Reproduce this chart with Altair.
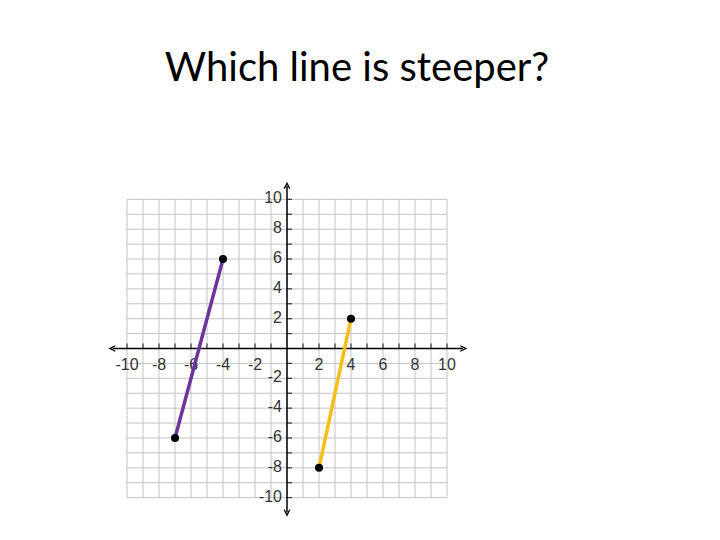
import altair as alt
import pandas as pd

title_text = "Which line is steeper?"
grid_values = list(range(-10, 11))
tick_values = [v for v in range(-10, 11) if v != 0]
label_values = [-10, -8, -6, -4, -2, 2, 4, 6, 8, 10]

purple_x = [-7, -4]
purple_y = [-6, 6]
yellow_x = [2, 4]
yellow_y = [-8, 2]

axis_x_ends = [-10.9, 11.0]
axis_y_ends = [-11.0, 10.9]

X = alt.Scale(domain=[-11.5, 11.5], nice=False, zero=False)
Y = alt.Scale(domain=[-11.5, 11.5], nice=False, zero=False)

grid_df = pd.DataFrame({"v": grid_values, "lo": [-10] * len(grid_values), "hi": [10] * len(grid_values)})
ticks_df = pd.DataFrame({"v": tick_values, "z": [0] * len(tick_values)})
labels_df = pd.DataFrame({"v": label_values, "t": [str(v) for v in label_values], "z": [0] * len(label_values)})

gray = "#c3c3c3"
vgrid = alt.Chart(grid_df).mark_rule(color=gray, strokeWidth=1).encode(
    x=alt.X("v:Q", scale=X, axis=None), y=alt.Y("lo:Q", scale=Y, axis=None), y2="hi:Q")
hgrid = alt.Chart(grid_df).mark_rule(color=gray, strokeWidth=1).encode(
    y=alt.Y("v:Q", scale=Y, axis=None), x=alt.X("lo:Q", scale=X, axis=None), x2="hi:Q")

axes_df = pd.DataFrame({"x1": [axis_x_ends[0], 0], "x2": [axis_x_ends[1], 0],
                        "y1": [0, axis_y_ends[0]], "y2": [0, axis_y_ends[1]]})
axes = alt.Chart(axes_df).mark_rule(color="black", strokeWidth=1.5).encode(
    x=alt.X("x1:Q", scale=X, axis=None), x2="x2:Q",
    y=alt.Y("y1:Q", scale=Y, axis=None), y2="y2:Q")

xticks = alt.Chart(ticks_df).mark_tick(color="black", orient="vertical", size=5, thickness=1.3, yOffset=-2.5).encode(
    x=alt.X("v:Q", scale=X, axis=None), y=alt.Y("z:Q", scale=Y, axis=None))
yticks = alt.Chart(ticks_df).mark_tick(color="black", orient="horizontal", size=5, thickness=1.3, xOffset=2.5).encode(
    y=alt.Y("v:Q", scale=Y, axis=None), x=alt.X("z:Q", scale=X, axis=None))

xlabels = alt.Chart(labels_df).mark_text(font="Liberation Sans", fontSize=16, color="#333333",
                                          baseline="top", align="center", dy=8).encode(
    x=alt.X("v:Q", scale=X, axis=None), y=alt.Y("z:Q", scale=Y, axis=None), text="t:N")
ylabels = alt.Chart(labels_df).mark_text(font="Liberation Sans", fontSize=16, color="#333333",
                                          baseline="middle", align="right", dx=-5, dy=-1).encode(
    y=alt.Y("v:Q", scale=Y, axis=None), x=alt.X("z:Q", scale=X, axis=None), text="t:N")

arrows_df = pd.DataFrame({
    "x": [axis_x_ends[0], axis_x_ends[1], 0, 0],
    "y": [0, 0, axis_y_ends[1], axis_y_ends[0]],
    "s": ["M1,-1L-1,0L1,1", "M-1,-1L1,0L-1,1", "M-1,1L0,-1L1,1", "M-1,-1L0,1L1,-1"],
})
arrows = alt.Chart(arrows_df).mark_point(filled=False, color="black", size=30, strokeWidth=1.3, opacity=1).encode(
    x=alt.X("x:Q", scale=X, axis=None), y=alt.Y("y:Q", scale=Y, axis=None),
    shape=alt.Shape("s:N", scale=None))

seg_df = pd.DataFrame({
    "x": purple_x + yellow_x, "y": purple_y + yellow_y,
    "k": ["p", "p", "y", "y"],
})
seg_colors = alt.Scale(domain=["p", "y"], range=["#6d359c", "#f7be16"])
segs = alt.Chart(seg_df).mark_line(strokeWidth=3.5).encode(
    x=alt.X("x:Q", scale=X, axis=None), y=alt.Y("y:Q", scale=Y, axis=None),
    color=alt.Color("k:N", scale=seg_colors, legend=None), detail="k:N")
pts = alt.Chart(seg_df).mark_circle(color="black", size=65, opacity=1).encode(
    x=alt.X("x:Q", scale=X, axis=None), y=alt.Y("y:Q", scale=Y, axis=None))

chart = alt.layer(vgrid, hgrid, axes, xticks, yticks, xlabels, ylabels, arrows, segs, pts).properties(
    width=368, height=343,
    autosize="none",
    padding={"left": 95, "top": 169, "right": 241, "bottom": 12},
    title=alt.TitleParams(title_text, font="Lato", fontSize=40, fontWeight="normal", color="black",
                          anchor="middle", dx=70, offset=88),
).configure_view(stroke=None)

chart.save("out.html", embed_options={"renderer": "svg", "actions": False})
